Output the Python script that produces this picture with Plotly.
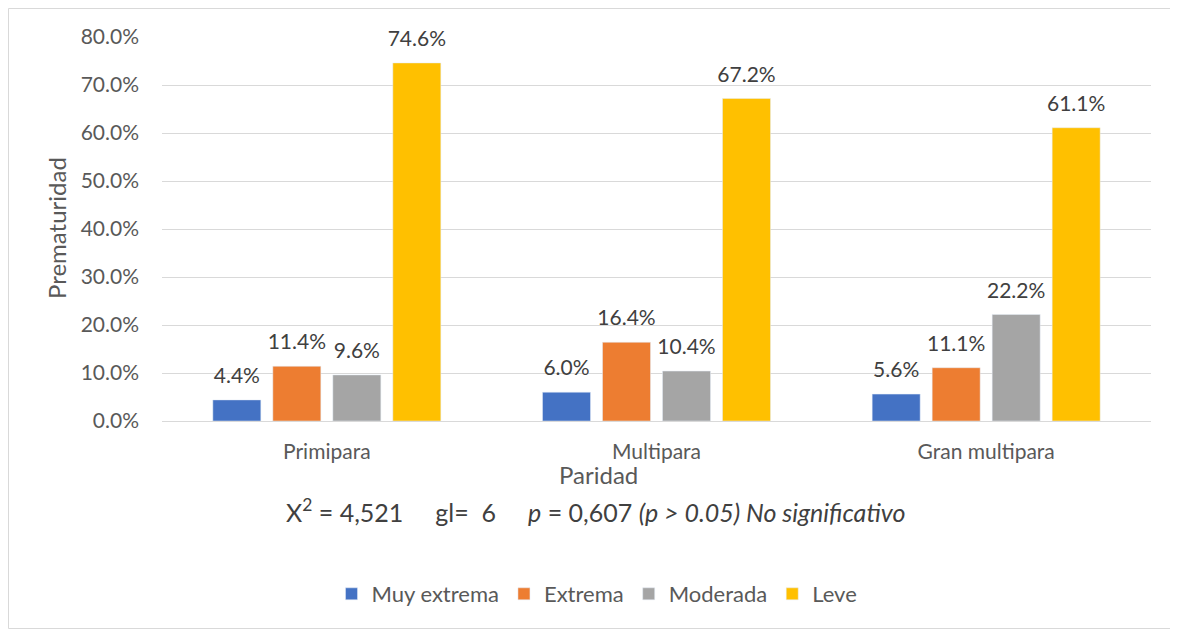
import plotly.graph_objects as go

categories = ["Primipara", "Multipara", "Gran multipara"]
series_names = ["Muy extrema", "Extrema", "Moderada", "Leve"]
muy_extrema = [4.4, 6.0, 5.6]
extrema = [11.4, 16.4, 11.1]
moderada = [9.6, 10.4, 22.2]
leve = [74.6, 67.2, 61.1]
y_ticks = [0, 10, 20, 30, 40, 50, 60, 70, 80]
y_tick_labels = [f"{v:.1f}%" for v in y_ticks]

colors = ["#4472C4", "#ED7D31", "#A5A5A5", "#FFC000"]
FONT = "Lato, Carlito, Calibri, sans-serif"

OFF = 8  # page body margin
W, H = 1178 - OFF, 630 - OFF
L, R, T, B = 162 - OFF, 27, 37 - OFF, 209
pw = W - L - R
ph = H - T - B

def px_x(x):
    return (x - OFF - L) / pw

def px_y(y):
    return (H - B - (y - OFF)) / ph

fig = go.Figure()
for i, (name, vals, col) in enumerate(zip(series_names, [muy_extrema, extrema, moderada, leve], colors)):
    fig.add_trace(go.Bar(
        name=name, x=categories, y=vals, marker_color=col,
        offsetgroup=str(i), legendgroup=name,
    ))
for i, (name, vals) in enumerate(zip(series_names, [muy_extrema, extrema, moderada, leve])):
    fig.add_trace(go.Scatter(
        x=categories, y=vals, mode="markers+text", offsetgroup=str(i),
        text=[f"{v:.1f}%" for v in vals], textposition="top center",
        marker=dict(size=17, opacity=0, color="white"),
        textfont=dict(family=FONT, size=21, color="#404040"),
        showlegend=False, hoverinfo="skip", cliponaxis=False,
    ))

fig.update_layout(
    width=W, height=H,
    margin=dict(l=L, r=R, t=T, b=B),
    paper_bgcolor="white", plot_bgcolor="white",
    barmode="group", bargap=0.272, bargroupgap=0.2,
    scattermode="group", scattergap=0.272,
    font=dict(family=FONT, size=21, color="#595959"),
    showlegend=True,
    legend=dict(orientation="h", x=px_x(597), xanchor="center",
                y=px_y(594), yanchor="middle",
                font=dict(family=FONT, size=22, color="#595959"),
                traceorder="normal", itemwidth=30),
    xaxis=dict(showgrid=False, showline=True, linecolor="#d9d9d9", linewidth=1,
               ticks="", ticklabelstandoff=12,
               tickfont=dict(family=FONT, size=21, color="#595959")),
    yaxis=dict(range=[0, 80], tickvals=y_ticks, ticktext=y_tick_labels,
               showgrid=True, gridcolor="#d9d9d9", gridwidth=1,
               zeroline=False, showline=False, ticks="", ticklabelstandoff=22,
               tickfont=dict(family=FONT, size=21, color="#595959")),
)

fig.add_annotation(text="Prematuridad", xref="paper", yref="paper",
                   x=px_x(56), y=px_y(228), textangle=-90, showarrow=False,
                   xanchor="center", yanchor="middle",
                   font=dict(family=FONT, size=24, color="#595959"))
fig.add_annotation(text="Paridad", xref="paper", yref="paper",
                   x=px_x(598), y=px_y(474), showarrow=False,
                   xanchor="center", yanchor="middle",
                   font=dict(family=FONT, size=24, color="#595959"))
nb = "\u00a0"
stats = ("X<sup>2</sup> = 4,521" + nb * 5 + "gl=" + nb * 2 + "6" + nb * 5 +
         "<i>p</i> = 0,607 <i>(p > 0.05) No significativo</i>")
fig.add_annotation(text=stats, xref="paper", yref="paper",
                   x=px_x(595), y=px_y(510), showarrow=False,
                   xanchor="center", yanchor="middle",
                   font=dict(family=FONT, size=25, color="#404040"))

fig.add_shape(type="rect", xref="paper", yref="paper",
              x0=(0.5 - L) / pw, x1=px_x(1177), y0=(H - B - (H - 1.5)) / ph,
              y1=(H - B - 0.5) / ph,
              line=dict(color="#d9d9d9", width=1), fillcolor="rgba(0,0,0,0)",
              layer="below")

fig.write_html("out.html")
